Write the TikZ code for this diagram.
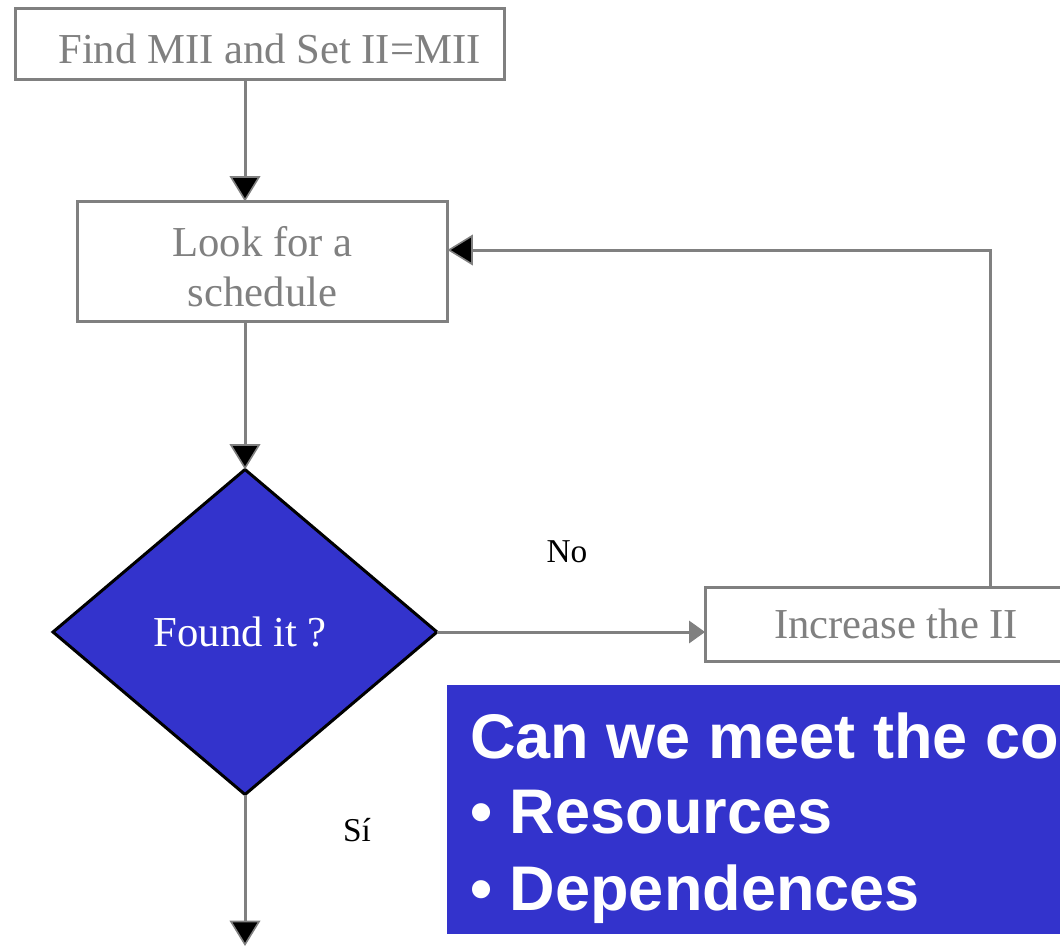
\documentclass[tikz,border=0pt]{standalone}
\usepackage{fontspec}
\setmainfont{Liberation Serif}
\newfontfamily\boxsans{Liberation Sans}
\usetikzlibrary{arrows.meta,shapes.geometric}
\definecolor{linegray}{HTML}{808080}
\definecolor{qblue}{HTML}{3333CC}
\tikzset{
  procbox/.style={draw=linegray, line width=2.25pt, rectangle, inner sep=0pt, outer sep=0pt,
    text=linegray, font=\fontsize{32}{37.5}\selectfont, align=center},
  arr/.style={draw=linegray, line width=2.25pt,
    -{Triangle[length=19pt,width=23pt,fill=black,line width=1.2pt]}},
  grayarr/.style={draw=linegray, line width=2.25pt,
    -{Triangle[length=12pt,width=17pt,fill=linegray,line width=0.8pt]}},
  lbl/.style={text=black, font=\fontsize{25}{30}\selectfont, inner sep=0pt},
  qtext/.style={anchor=base west, inner sep=0pt, text=white,
    font=\boxsans\bfseries\fontsize{47.3}{57}\selectfont},
}
\begin{document}
\begin{tikzpicture}[x=0.75pt,y=-0.75pt]
\useasboundingbox (0,0) rectangle (1060,947);
\clip (0,0) rectangle (1060,947);
\fill[white] (0,0) rectangle (1060,947);

\node[procbox, minimum width=366.75pt, minimum height=53.25pt] (b1) at (259.5,44) {\rule{0pt}{29pt}\hspace*{15pt}Find MII and Set II=MII};
\node[procbox, minimum width=277.5pt, minimum height=90pt] (b2) at (262.5,261.5) {\rule{0pt}{30pt}Look for a\\schedule};
\node[diamond, draw=black, fill=qblue, line width=2.25pt, minimum width=288pt, minimum height=243.75pt,
  inner sep=0pt, outer sep=0pt, text=white, font=\fontsize{32}{37.5}\selectfont] (d) at (245,632) {Found it ?\hspace*{7pt}};
\node[procbox, minimum width=286.5pt, minimum height=55.5pt] (inc) at (896,624) {Increase the II};

\node[fill=qblue, rectangle, minimum width=480pt, minimum height=186.75pt, inner sep=0pt, anchor=north west] (q) at (447,685) {};
\node[qtext] (q1) at (470,758) {Can we meet the co};
\node[qtext] (q2) at (470,833) {• Resources};
\node[qtext] (q3) at (470,910) {• Dependences};

\node[lbl] (no) at (567,552) {No};
\node[lbl] (si) at (357,830) {Sí};

\coordinate (lp) at (990,250);
\coordinate (endp) at (245,946);

\draw[arr] (b1.south -| d.north) -- (b2.north -| d.north);
\draw[arr] (b2.south -| d.north) -- (d.north);
\draw[grayarr] (d.east) -- (d.east -| inc.west);
\draw[arr] (inc.north -| lp) -- (lp) -- (lp -| b2.east);
\draw[arr] (d.south) -- (endp);
\end{tikzpicture}
\end{document}
